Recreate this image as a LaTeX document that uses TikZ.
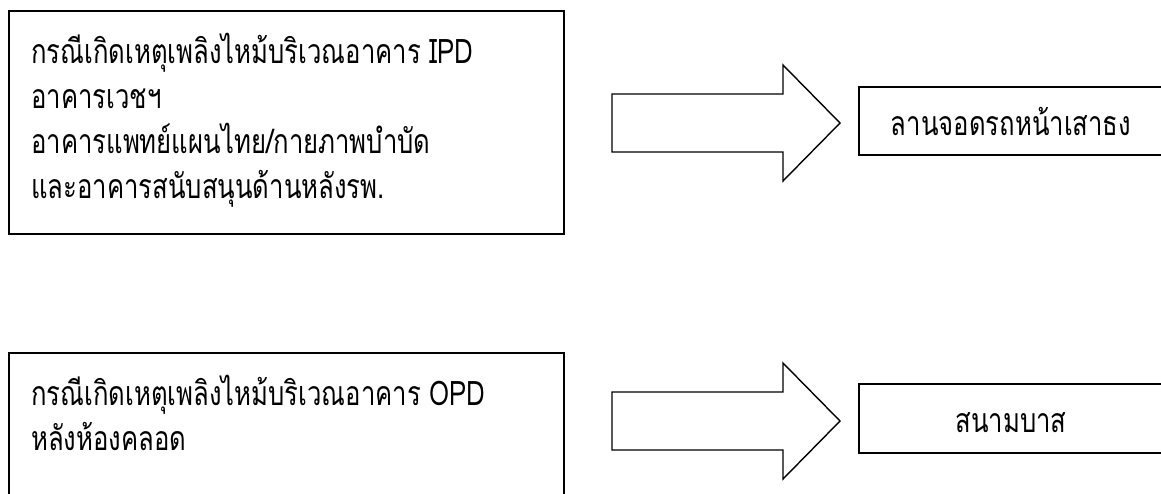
\documentclass[tikz,border=0pt]{standalone}
\usepackage{fontspec}
\newfontfamily\thaifont[Script=Thai, FakeStretch=0.76]{Loma}
\begin{document}
\begin{tikzpicture}[x=1pt,y=-1pt,
  box/.style={draw=black, line width=1.6pt, fill=white, anchor=north west, inner sep=0pt},
  blockarrow/.style={draw=black, line width=1.4pt, line join=miter, fill=white},
  txt/.style={anchor=base west, inner sep=0pt, font=\thaifont\fontsize{33.8}{38}\selectfont},
  ctxt/.style={anchor=base, inner sep=0pt, font=\thaifont\fontsize{33.8}{38}\selectfont}]
\useasboundingbox (0,0) rectangle (1161,493);
\clip (0,0) rectangle (1161,493);
% left boxes
\node[box, minimum width=555pt, minimum height=223pt] (b1) at (8,10) {};
\node[box, minimum width=555pt, minimum height=223pt] (b2) at (8,352) {};
% right boxes
\node[box, minimum width=306pt, minimum height=68pt] (r1) at (858,86) {};
\node[box, minimum width=306pt, minimum height=69pt] (r2) at (858,383) {};
% arrows
\draw[blockarrow] (612,94) -- (783,94) -- (783,65) -- (840,123) -- (783,181) -- (783,152) -- (612,152) -- cycle;
\begin{scope}[yshift=-298pt]
\draw[blockarrow] (612,94) -- (783,94) -- (783,65) -- (840,123) -- (783,181) -- (783,152) -- (612,152) -- cycle;
\end{scope}
% texts
\node[txt] (t11) at (31,63) {กรณีเกิดเหตุเพลิงไหม้บริเวณอาคาร IPD};
\node[txt] (t12) at (31,108) {อาคารเวชฯ};
\node[txt] (t13) at (31,153) {อาคารแพทย์แผนไทย/กายภาพบำบัด};
\node[txt] (t14) at (31,198) {และอาคารสนับสนุนด้านหลังรพ.};
\node[txt] (t21) at (31,405) {กรณีเกิดเหตุเพลิงไหม้บริเวณอาคาร OPD};
\node[txt] (t22) at (31,450) {หลังห้องคลอด};
\node[ctxt] (t31) at (1011,135) {ลานจอดรถหน้าเสาธง};
\node[ctxt] (t41) at (1011,432) {สนามบาส};
\end{tikzpicture}
\end{document}
